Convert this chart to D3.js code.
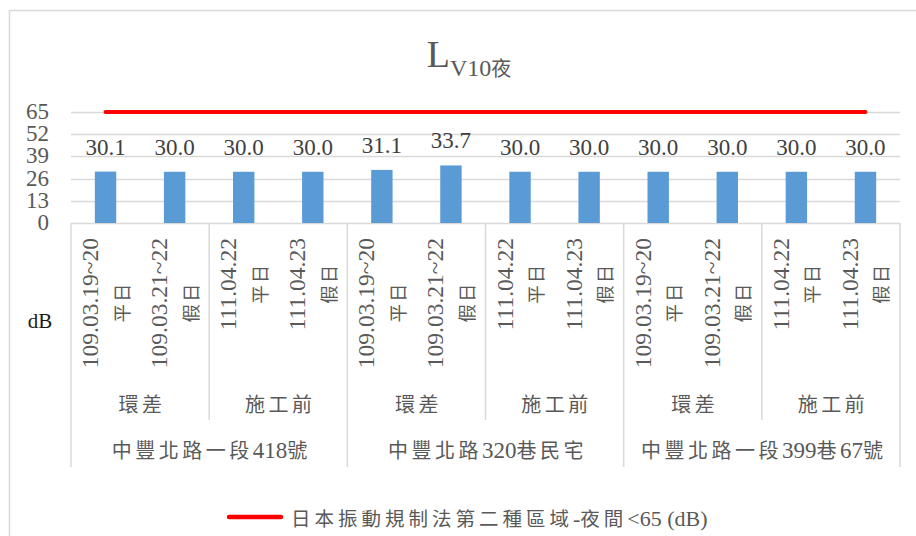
<!DOCTYPE html>
<html>
<head>
<meta charset="utf-8">
<script src="https://cdn.jsdelivr.net/npm/d3@7/dist/d3.min.js"></script>
<style>
  html, body { margin: 0; padding: 0; background: #fff; }
  svg { display: block; }
</style>
</head>
<body>
<svg id="chart" width="916" height="536"></svg>
<script>
// Night-time vibration level L_V10 at three receptor sites
const dateLabels = [
  "109.03.19~20", "109.03.21~22", "111.04.22", "111.04.23",
  "109.03.19~20", "109.03.21~22", "111.04.22", "111.04.23",
  "109.03.19~20", "109.03.21~22", "111.04.22", "111.04.23"
];
const dayLabels = ["平日", "假日", "平日", "假日", "平日", "假日", "平日", "假日", "平日", "假日", "平日", "假日"];
const periods = ["環差", "施工前", "環差", "施工前", "環差", "施工前"];
const sites = ["中豐北路一段418號", "中豐北路320巷民宅", "中豐北路一段399巷67號"];
const values = [30.1, 30.0, 30.0, 30.0, 31.1, 33.7, 30.0, 30.0, 30.0, 30.0, 30.0, 30.0];
const limitValues = [65, 65, 65, 65, 65, 65, 65, 65, 65, 65, 65, 65];
const yTicks = [0, 13, 26, 39, 52, 65];
const legendLabel = "日本振動規制法第二種區域-夜間<65 (dB)";
const unitLabel = "dB";

const LATIN = "'Liberation Serif', 'Times New Roman', serif";
const CJK = "'Noto Sans CJK TC', 'Noto Sans CJK SC', sans-serif";
const TEXT = "#595959";
const GRID = "#d9d9d9";

const svg = d3.select("#chart");

// Split a string into latin / CJK runs so each gets its own face
function richText(sel, str, o) {
  const runs = str.match(/[\u3000-\u9fff\uf900-\ufaff]+|[^\u3000-\u9fff\uf900-\ufaff]+/g) || [];
  runs.forEach(r => {
    const isCjk = /[\u3000-\u9fff\uf900-\ufaff]/.test(r);
    const t = sel.append("tspan").text(r)
      .attr("font-family", isCjk ? CJK : LATIN)
      .attr("font-size", isCjk ? o.cjk : o.latin);
    if (isCjk && o.spacing) t.attr("letter-spacing", o.spacing);
  });
  return sel;
}

// outer chart frame
svg.append("rect")
  .attr("x", 9.5).attr("y", 10.5).attr("width", 1000).attr("height", 1000)
  .attr("fill", "none").attr("stroke", GRID).attr("stroke-width", 1.5);

const plot = { left: 71, right: 900, top: 112, bottom: 223 };

const x = d3.scaleBand().domain(d3.range(values.length)).range([plot.left, plot.right]).padding(0);
const y = d3.scaleLinear().domain([0, 65]).range([plot.bottom, plot.top]);
const bw = x.bandwidth();
const barW = bw * 0.31;

// horizontal gridlines
svg.append("g").selectAll("line").data(yTicks).join("line")
  .attr("x1", plot.left).attr("x2", plot.right)
  .attr("y1", d => Math.round(y(d)) + 0.5).attr("y2", d => Math.round(y(d)) + 0.5)
  .attr("stroke", GRID).attr("stroke-width", 1.3);

// y tick labels
svg.append("g").selectAll("text").data(yTicks).join("text")
  .attr("x", 49).attr("y", d => y(d)).attr("dy", "0.3em")
  .attr("text-anchor", "end")
  .attr("font-family", LATIN).attr("font-size", 23).attr("fill", TEXT)
  .text(d => d);

// bars
svg.append("g").selectAll("rect").data(values).join("rect")
  .attr("x", (d, i) => x(i) + (bw - barW) / 2)
  .attr("y", d => y(d))
  .attr("width", barW)
  .attr("height", d => y(0) - y(d))
  .attr("fill", "#5b9bd5");

// value labels
svg.append("g").selectAll("text").data(values).join("text")
  .attr("x", (d, i) => x(i) + bw / 2)
  .attr("y", d => y(d) - 17)
  .attr("text-anchor", "middle")
  .attr("font-family", LATIN).attr("font-size", 23).attr("fill", "#404040")
  .text(d => d.toFixed(1));

// limit line
const limitLine = d3.line().x((d, i) => x(i) + bw / 2).y(d => y(d));
svg.append("path").datum(limitValues)
  .attr("d", limitLine)
  .attr("fill", "none").attr("stroke", "#ff0000").attr("stroke-width", 4)
  .attr("stroke-linecap", "round");

// category axis separators
const sepG = svg.append("g").attr("stroke", GRID).attr("stroke-width", 1.5);
d3.range(0, values.length + 1).forEach(i => {
  const xx = i < values.length ? x(i) : plot.right;
  if (i % 4 === 0) {
    sepG.append("line").attr("x1", xx).attr("x2", xx).attr("y1", plot.bottom).attr("y2", 467);
  } else if (i % 2 === 0) {
    sepG.append("line").attr("x1", xx).attr("x2", xx).attr("y1", plot.bottom).attr("y2", 420);
  }
});

// innermost category labels (rotated, two lines)
const lvl1 = svg.append("g");
dateLabels.forEach((d, i) => {
  const g = lvl1.append("g").attr("transform", `translate(${x(i) + bw / 2},238) rotate(-90)`);
  const t1 = g.append("text")
    .attr("y", -7.5).attr("text-anchor", "middle")
    .attr("font-family", LATIN).attr("font-size", 23.5).attr("fill", TEXT).text(d);
  const t2 = g.append("text")
    .attr("y", 23).attr("text-anchor", "middle").attr("fill", TEXT);
  richText(t2, dayLabels[i], { cjk: 18.5, latin: 23.5, spacing: 2 });
  const len = Math.max(t1.node().getComputedTextLength(), t2.node().getComputedTextLength());
  t1.attr("x", -len / 2);
  t2.attr("x", -len / 2 + 1);
});

// period labels
svg.append("g").selectAll("text").data(periods).join("text")
  .attr("x", (d, i) => (x(i * 2) + (i * 2 + 2 < values.length ? x(i * 2 + 2) : plot.right)) / 2 + 2)
  .attr("y", 412)
  .attr("text-anchor", "middle").attr("fill", TEXT)
  .each(function (d) { richText(d3.select(this), d, { cjk: 20, latin: 23, spacing: 3.5 }); });

// site labels
svg.append("g").selectAll("text").data(sites).join("text")
  .attr("x", (d, i) => (x(i * 4) + (i * 4 + 4 < values.length ? x(i * 4 + 4) : plot.right)) / 2 + 2)
  .attr("y", 458)
  .attr("text-anchor", "middle").attr("fill", TEXT)
  .each(function (d) { richText(d3.select(this), d, { cjk: 20, latin: 23, spacing: 3.5 }); });

// unit label
svg.append("text")
  .attr("x", 40).attr("y", 328).attr("text-anchor", "middle")
  .attr("font-family", LATIN).attr("font-size", 21).attr("fill", "#1a1a1a")
  .text(unitLabel);

// title: L with subscript V10夜
const title = svg.append("text")
  .attr("x", 469).attr("y", 67).attr("text-anchor", "middle").attr("fill", TEXT);
title.append("tspan").attr("font-family", LATIN).attr("font-size", 38).text("L");
title.append("tspan").attr("font-family", LATIN).attr("font-size", 24).attr("dy", 9).text("V10");
title.append("tspan").attr("font-family", CJK).attr("font-size", 20).text("夜");

// legend
svg.append("line")
  .attr("x1", 229).attr("x2", 281).attr("y1", 517).attr("y2", 517)
  .attr("stroke", "#ff0000").attr("stroke-width", 4.5).attr("stroke-linecap", "round");
const lg = svg.append("text").attr("x", 291).attr("y", 526).attr("fill", TEXT);
richText(lg, legendLabel, { cjk: 19.5, latin: 22, spacing: 4 });
</script>
</body>
</html>
